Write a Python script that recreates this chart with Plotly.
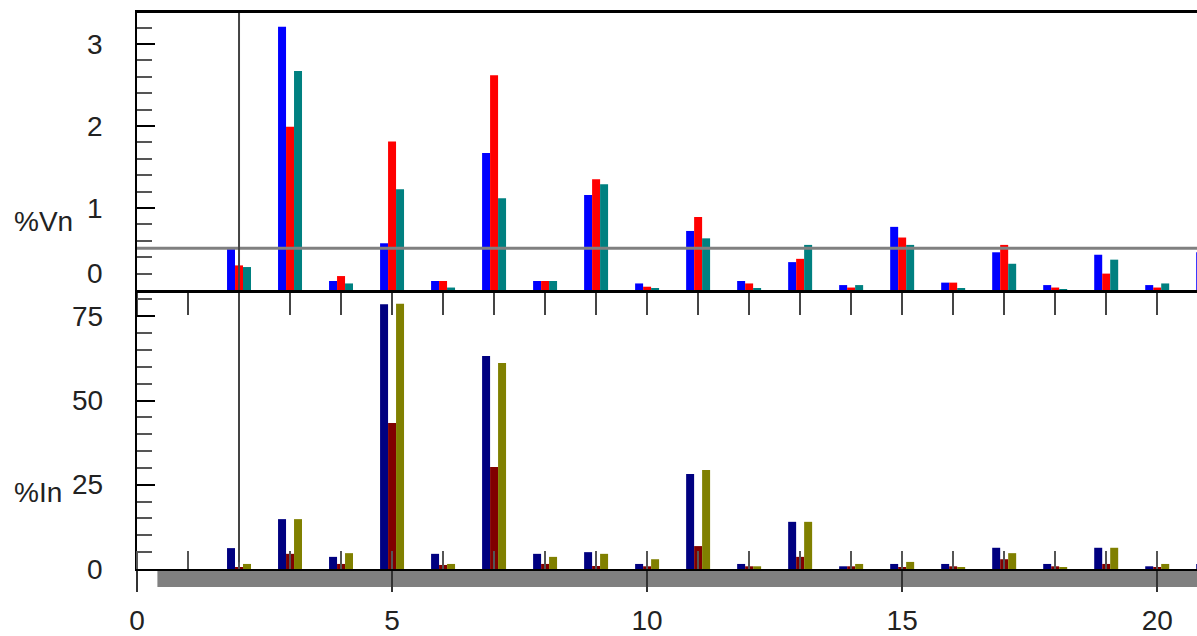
import plotly.graph_objects as go

# ---------------- data ----------------
harmonics = list(range(2, 22))

# %Vn (voltage harmonics) - three phases
vn_phase1 = [0.52, 3.21, 0.11, 0.57, 0.11, 1.67, 0.11, 1.16, 0.08, 0.72,
             0.11, 0.34, 0.06, 0.77, 0.09, 0.46, 0.06, 0.43, 0.06, 0.46]
vn_phase2 = [0.30, 1.99, 0.17, 1.81, 0.11, 2.62, 0.11, 1.35, 0.04, 0.89,
             0.08, 0.38, 0.03, 0.64, 0.09, 0.55, 0.03, 0.20, 0.03, 0.20]
vn_phase3 = [0.28, 2.67, 0.08, 1.23, 0.03, 1.12, 0.11, 1.29, 0.02, 0.63,
             0.02, 0.55, 0.06, 0.55, 0.02, 0.32, 0.01, 0.37, 0.08, 0.30]

# %In (current harmonics) - three phases
in_phase1 = [6.2, 14.8, 3.6, 78.6, 4.5, 63.2, 4.5, 5.0, 1.5, 28.2,
             1.5, 14.0, 0.8, 1.5, 1.5, 6.3, 1.5, 6.3, 0.8, 1.5]
in_phase2 = [0.3, 4.5, 1.5, 43.3, 1.2, 30.3, 1.5, 0.9, 0.8, 6.8,
             0.8, 3.6, 0.8, 0.6, 0.8, 2.9, 0.8, 1.5, 0.6, 0.6]
in_phase3 = [1.5, 14.8, 4.7, 78.7, 1.5, 61.1, 3.6, 4.5, 2.9, 29.4,
             0.8, 14.0, 1.5, 2.1, 0.6, 4.7, 0.6, 6.3, 1.5, 1.0]

vn_ticks = [0, 1, 2, 3]
in_ticks = [0, 25, 50, 75]
x_ticks = [0, 5, 10, 15, 20]

vn_colors = ["#0000FF", "#FF0000", "#008080"]
in_colors = ["#000080", "#800000", "#808000"]

limit_level = 0.51      # horizontal marker line on %Vn panel
cursor_harmonic = 2     # vertical cursor

# ---------------- layout geometry ----------------
W, H = 1197, 636
x_left_px = 137
top_px, mid_px, bot_px = 13, 290, 569
x_range = [0, 20.78]
vn_range = [0, 3.378]
in_range = [0, 82.8]

def py(p):
    return 1 - p / H

fig = go.Figure()

for vals, col in zip([vn_phase1, vn_phase2, vn_phase3], vn_colors):
    fig.add_trace(go.Bar(x=harmonics, y=vals, marker=dict(color=col, line=dict(width=0)),
                         xaxis="x", yaxis="y", offsetgroup=col))
for vals, col in zip([in_phase1, in_phase2, in_phase3], in_colors):
    fig.add_trace(go.Bar(x=harmonics, y=vals, marker=dict(color=col, line=dict(width=0)),
                         xaxis="x2", yaxis="y2", offsetgroup=col))

tick_font = dict(family="Liberation Sans, Arial, sans-serif", size=28, color="#222222")

fig.update_layout(
    width=W, height=H,
    margin=dict(l=0, r=0, t=0, b=0, autoexpand=False),
    paper_bgcolor="white", plot_bgcolor="white",
    showlegend=False,
    barmode="group", bargap=0.53, bargroupgap=0,
    font=tick_font,
    xaxis=dict(domain=[x_left_px / W, 1], range=x_range, anchor="y", automargin=False,
               showgrid=False, zeroline=False, showticklabels=False,
               showline=True, linecolor="black", linewidth=3, mirror=True,
               tickmode="linear", tick0=0, dtick=1,
               ticks="outside", ticklen=22, tickwidth=2, tickcolor="#444444"),
    yaxis=dict(domain=[py(mid_px), py(top_px)], range=vn_range, anchor="x", automargin=False,
               showgrid=False, zeroline=False, showticklabels=False,
               showline=True, linecolor="black", linewidth=2,
               tickmode="linear", tick0=0, dtick=1,
               ticks="inside", ticklen=18, tickwidth=2, tickcolor="black",
               minor=dict(tick0=0, dtick=0.2, ticks="inside", ticklen=15,
                          tickwidth=2, tickcolor="#555555")),
    xaxis2=dict(domain=[x_left_px / W, 1], range=x_range, anchor="y2", automargin=False,
                showgrid=False, zeroline=False,
                showline=True, linecolor="black", linewidth=2,
                tickmode="array", tickvals=x_ticks, ticktext=[str(t) for t in x_ticks],
                ticks="outside", ticklen=21, tickwidth=2, tickcolor="#333333",
                ticklabelstandoff=4, tickfont=tick_font,
                minor=dict(tick0=0, dtick=1, ticks="inside", ticklen=18,
                           tickwidth=2, tickcolor="#555555")),
    yaxis2=dict(domain=[py(bot_px), py(mid_px)], range=in_range, anchor="x2", automargin=False,
                showgrid=False, zeroline=False, showticklabels=False,
                showline=True, linecolor="black", linewidth=2,
                tickmode="linear", tick0=0, dtick=25,
                ticks="inside", ticklen=18, tickwidth=2, tickcolor="black",
                minor=dict(tick0=0, dtick=5, ticks="inside", ticklen=15,
                           tickwidth=2, tickcolor="#555555")),
)

# y tick labels as annotations (the top "0" is lifted to clear the lower panel)
label_x = 105 / W
for v in vn_ticks:
    fig.add_annotation(xref="paper", yref="y", x=label_x, y=v, text=str(v),
                       showarrow=False, xanchor="right", yanchor="middle",
                       yshift=17 if v == 0 else 0, font=tick_font)
for v in in_ticks:
    fig.add_annotation(xref="paper", yref="y2", x=label_x, y=v, text=str(v),
                       showarrow=False, xanchor="right", yanchor="middle",
                       font=tick_font)

# axis titles
fig.add_annotation(xref="paper", yref="paper", x=12 / W, y=py(221), text="%Vn",
                   showarrow=False, xanchor="left", yanchor="middle", font=tick_font)
fig.add_annotation(xref="paper", yref="paper", x=12 / W, y=py(492), text="%In",
                   showarrow=False, xanchor="left", yanchor="middle", font=tick_font)

# horizontal limit line on %Vn panel
fig.add_shape(type="line", xref="paper", yref="y", x0=x_left_px / W, x1=1,
              y0=limit_level, y1=limit_level, line=dict(color="#808080", width=3))
# vertical cursor
fig.add_shape(type="line", xref="x", yref="y", x0=cursor_harmonic, x1=cursor_harmonic,
              y0=0, y1=vn_range[1], line=dict(color="#444444", width=2))
fig.add_shape(type="line", xref="x2", yref="y2", x0=cursor_harmonic, x1=cursor_harmonic,
              y0=2, y1=76, line=dict(color="#444444", width=2))
# grey strip under the lower panel
fig.add_shape(type="rect", xref="x2", yref="paper", x0=0.4, x1=x_range[1],
              y0=py(587), y1=py(571), line=dict(width=0), fillcolor="#808080",
              layer="below")

fig.write_html("out.html")
